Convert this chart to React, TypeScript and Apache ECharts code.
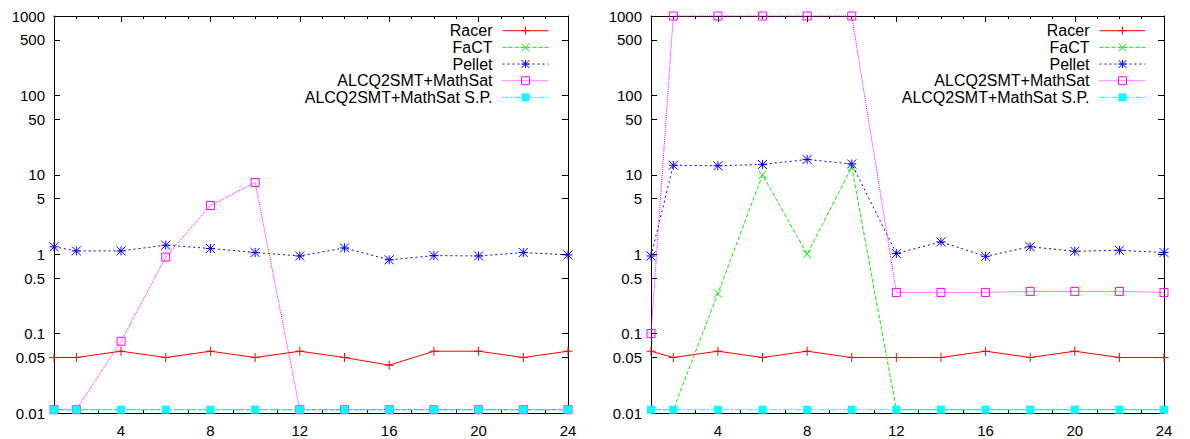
import React, { useEffect, useRef } from 'react';
import * as echarts from 'echarts';

// ---------- data ----------
const xValues = [1, 2, 4, 6, 8, 10, 12, 14, 16, 18, 20, 22, 24];
const seriesNames = ['Racer', 'FaCT', 'Pellet', 'ALCQ2SMT+MathSat', 'ALCQ2SMT+MathSat S.P.'];

// left panel
const racerL = [0.05, 0.05, 0.06, 0.05, 0.06, 0.05, 0.06, 0.05, 0.04, 0.06, 0.06, 0.05, 0.06];
const factL = [0.011, 0.011, 0.011, 0.011, 0.011, 0.011, 0.011, 0.011, 0.011, 0.011, 0.011, 0.011, 0.011];
const pelletL = [1.24, 1.1, 1.1, 1.3, 1.18, 1.05, 0.95, 1.2, 0.85, 0.96, 0.95, 1.05, 0.98];
const mathsatL = [0.011, 0.011, 0.08, 0.92, 4.1, 8.0, 0.011, 0.011, 0.011, 0.011, 0.011, 0.011, 0.011];
const mathsatSpL = [0.011, 0.011, 0.011, 0.011, 0.011, 0.011, 0.011, 0.011, 0.011, 0.011, 0.011, 0.011, 0.011];

// right panel
const racerR = [0.06, 0.05, 0.06, 0.05, 0.06, 0.05, 0.05, 0.05, 0.06, 0.05, 0.06, 0.05, 0.05];
const factR = [0.011, 0.011, 0.32, 10, 1.0, 12.5, 0.011, 0.011, 0.011, 0.011, 0.011, 0.011, 0.011];
const pelletR = [0.95, 13.2, 13, 13.5, 15.6, 13.7, 1.02, 1.43, 0.94, 1.24, 1.09, 1.12, 1.05];
const mathsatR = [0.1, 1000, 1000, 1000, 1000, 1000, 0.33, 0.33, 0.33, 0.34, 0.34, 0.34, 0.33];
const mathsatSpR = [0.011, 0.011, 0.011, 0.011, 0.011, 0.011, 0.011, 0.011, 0.011, 0.011, 0.011, 0.011, 0.011];

const xMajorTicks = [4, 8, 12, 16, 20, 24];
const yTickValues = [0.01, 0.05, 0.1, 0.5, 1, 5, 10, 50, 100, 500, 1000];
const yTickLabels = ['0.01', '0.05', '0.1', '0.5', '1', '5', '10', '50', '100', '500', '1000'];

// ---------- styles ----------
const FONT = "'Liberation Sans', Arial, Helvetica, sans-serif";
const PLUS = 'path://M0,-1L0,1M-1,0L1,0';
const CROSS = 'path://M-1,-1L1,1M-1,1L1,-1';
const STAR = 'path://M0,-1L0,1M-1,0L1,0M-1,-1L1,1M-1,1L1,-1';
const OPEN_SQUARE = 'path://M-1,-1L1,-1L1,1L-1,1Z';

const seriesStyles = [
  { color: '#ff0000', dash: 'solid' as any, symbol: PLUS, size: 9, fill: 'rgba(0,0,0,0)', bw: 1 },
  { color: '#00ee00', dash: [4, 2], symbol: CROSS, size: 8, fill: 'rgba(0,0,0,0)', bw: 1 },
  { color: '#0000ff', dash: [2, 3], symbol: STAR, size: 9, fill: 'rgba(0,0,0,0)', bw: 1 },
  { color: '#ff00ff', dash: [1, 1], symbol: OPEN_SQUARE, size: 8, fill: 'rgba(0,0,0,0)', bw: 1 },
  { color: '#00ffff', dash: [6, 2, 2, 2], symbol: 'rect', size: 8, fill: '#00ffff', bw: 0 },
];

const panels = [
  { values: [racerL, factL, pelletL, mathsatL, mathsatSpL], left: 54, width: 514, legendRight: 641 },
  { values: [racerR, factR, pelletR, mathsatR, mathsatSpR], left: 651, width: 513, legendRight: 44 },
];

const yLogTicks = yTickValues.map((v) => Math.log10(v));
const yLabelFormatter = (v: number) => {
  const i = yLogTicks.findIndex((t) => Math.abs(t - v) < 1e-6);
  return i >= 0 ? yTickLabels[i] : '';
};

function buildOption() {
  const grid: any[] = [];
  const xAxis: any[] = [];
  const yAxis: any[] = [];
  const series: any[] = [];
  const legend: any[] = [];
  const black = { color: '#000', width: 1 };

  panels.forEach((p, pi) => {
    grid.push({ left: p.left, top: 16, width: p.width, height: 397 });
    xAxis.push({
      type: 'value', gridIndex: pi, min: 1, max: 24, position: 'bottom',
      axisLine: { onZero: false, lineStyle: black },
      axisTick: { inside: true, length: 6, customValues: xMajorTicks, lineStyle: black },
      axisLabel: { customValues: xMajorTicks, fontSize: 15, color: '#000', margin: 10, fontFamily: FONT },
      splitLine: { show: false },
    });
    xAxis.push({
      type: 'value', gridIndex: pi, min: 1, max: 24, interval: 1, position: 'bottom',
      axisLine: { show: false, onZero: false },
      axisTick: { inside: true, length: 3, lineStyle: black },
      axisLabel: { show: false }, splitLine: { show: false },
    });
    xAxis.push({
      type: 'value', gridIndex: pi, min: 1, max: 24, position: 'top',
      axisLine: { onZero: false, lineStyle: black },
      axisTick: { inside: true, length: 6, customValues: xMajorTicks, lineStyle: black },
      axisLabel: { show: false }, splitLine: { show: false },
    });
    xAxis.push({
      type: 'value', gridIndex: pi, min: 1, max: 24, interval: 1, position: 'top',
      axisLine: { show: false, onZero: false },
      axisTick: { inside: true, length: 3, lineStyle: black },
      axisLabel: { show: false }, splitLine: { show: false },
    });
    yAxis.push({ type: 'log', gridIndex: pi, min: 0.01, max: 1000, show: false });
    yAxis.push({
      type: 'value', gridIndex: pi, min: -2, max: 3, position: 'left',
      axisLine: { show: true, onZero: false, lineStyle: black },
      axisTick: { show: true, inside: true, length: 6, customValues: yLogTicks, lineStyle: black },
      axisLabel: { customValues: yLogTicks, formatter: yLabelFormatter, fontSize: 15, color: '#000', margin: 9, fontFamily: FONT },
      splitLine: { show: false },
    });
    yAxis.push({
      type: 'value', gridIndex: pi, min: -2, max: 3, position: 'right',
      axisLine: { show: true, onZero: false, lineStyle: black },
      axisTick: { show: true, inside: true, length: 6, customValues: yLogTicks, lineStyle: black },
      axisLabel: { show: false }, splitLine: { show: false },
    });

    seriesNames.forEach((name, si) => {
      const st = seriesStyles[si];
      series.push({
        type: 'line', name,
        xAxisIndex: pi * 4, yAxisIndex: pi * 3,
        data: xValues.map((x, i) => [x, p.values[si][i]]),
        symbol: st.symbol, symbolSize: st.size,
        lineStyle: { color: st.color, width: 1, type: st.dash },
        itemStyle: { color: st.fill, borderColor: st.color, borderWidth: st.bw },
        emphasis: { disabled: true },
        clip: false,
        z: 2 + si,
      });
    });

    legend.push({
      orient: 'vertical', align: 'right', right: p.legendRight, top: 22.7,
      padding: 0,
      itemWidth: 46, itemHeight: 10, itemGap: 0.67,
      selectedMode: false,
      data: seriesNames,
      textStyle: { fontSize: 16, fontFamily: FONT, color: '#000', lineHeight: 16, padding: [0, 5, 0, 0] },
      lineStyle: { width: 1 },
      itemStyle: { borderWidth: 'inherit' },
    });
  });

  return {
    animation: false,
    backgroundColor: '#fff',
    textStyle: { fontFamily: FONT },
    grid, xAxis, yAxis, series, legend,
  };
}

export default function App() {
  const ref = useRef<HTMLDivElement>(null);
  useEffect(() => {
    if (!ref.current) return;
    const chart = echarts.init(ref.current, null, { renderer: 'svg' });
    chart.setOption(buildOption() as any);
    return () => chart.dispose();
  }, []);
  return <div ref={ref} style={{ position: 'absolute', left: 0, top: 0, width: 1190, height: 439 }} />;
}
